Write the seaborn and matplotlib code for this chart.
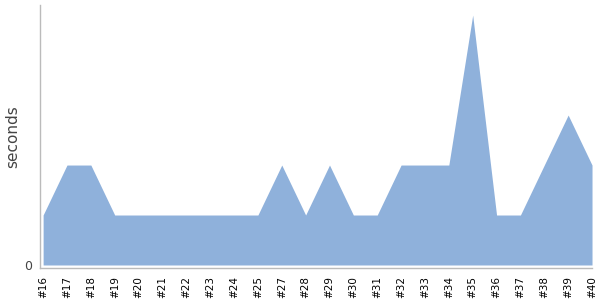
import matplotlib
matplotlib.use("Agg")
import matplotlib.pyplot as plt
import seaborn as sns
import pandas as pd

builds = ["#16", "#17", "#18", "#19", "#20", "#21", "#22", "#23", "#24", "#25",
          "#27", "#28", "#29", "#30", "#31", "#32", "#33", "#34", "#35", "#36",
          "#37", "#38", "#39", "#40"]
seconds = [1, 2, 2, 1, 1, 1, 1, 1, 1, 1, 2, 1, 2, 1, 1, 2, 2, 2, 5, 1, 1, 2, 3, 2]

sns.set_theme(style="white")
plt.rcParams['font.family'] = ['DejaVu Sans']

df = pd.DataFrame({"build": builds, "seconds": seconds})
df["pos"] = range(len(df))

fig = plt.figure(figsize=(6, 3), dpi=100)
ax = fig.add_axes([0.0667, 0.1067, 0.92, 0.8763])
color = "#8fb1db"
sns.lineplot(data=df, x="pos", y="seconds", ax=ax, color=color, linewidth=0)
ax.fill_between(df["pos"], df["seconds"], 0, color=color, linewidth=0)

ax.set_xlim(-0.13, len(df) - 1)
ax.set_ylim(-0.06, 5.2)
ax.set_xticks(df["pos"])
ax.set_xticklabels(df["build"], rotation=90, fontsize=7.5, color="black")
ax.set_yticks([0])
ax.set_yticklabels(["0"], fontsize=9, color="#444444")
ax.set_xlabel("")
ax.set_ylabel("seconds", fontsize=11, color="#444444", va="center", ha="center")
ax.yaxis.set_label_coords(-0.049, 0.50)
for s in ["top", "right"]:
    ax.spines[s].set_visible(False)
for s in ["left", "bottom"]:
    ax.spines[s].set_color("#bbbbbb")
    ax.spines[s].set_linewidth(1)
ax.tick_params(axis="x", length=4, width=1, color="#bbbbbb", pad=2)
ax.tick_params(axis="y", length=0, pad=6)
fig.savefig("out.png", dpi=100)
